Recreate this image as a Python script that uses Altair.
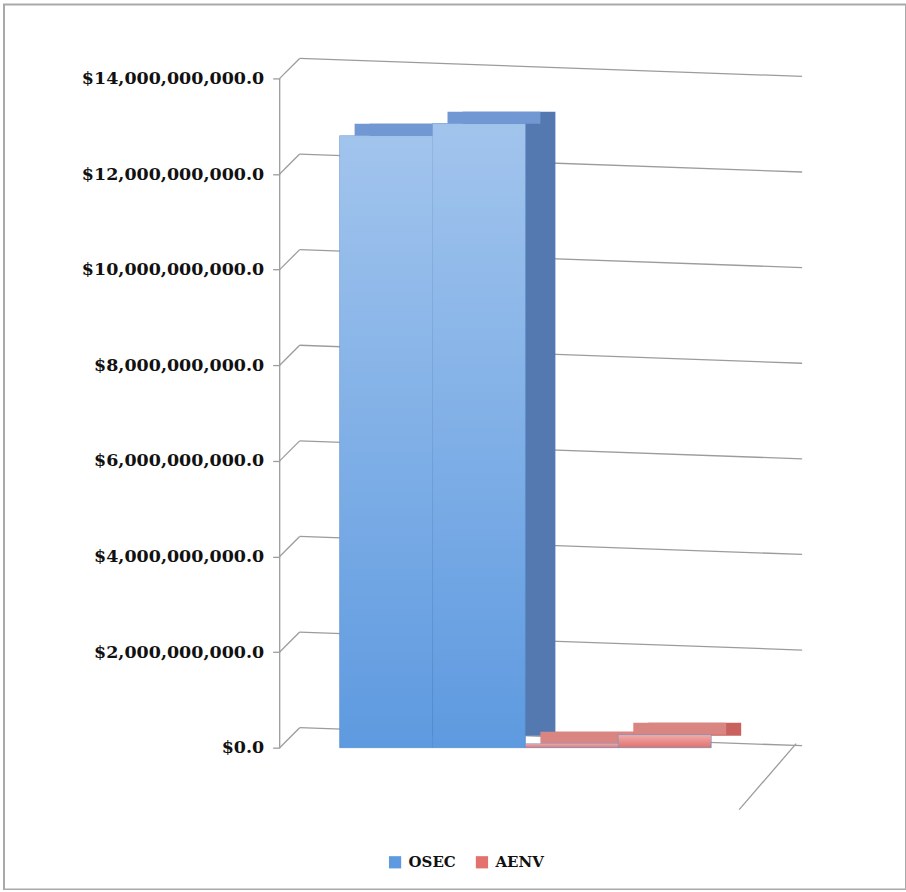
import altair as alt
import pandas as pd

# ---- data ----
bar_ids = ["1", "2", "3", "4"]
series = ["OSEC", "OSEC", "AENV", "AENV"]
values = [12.8e9, 13.05e9, 0.08e9, 0.27e9]
legend_order = ["OSEC", "AENV"]
tick_values = [0, 2e9, 4e9, 6e9, 8e9, 10e9, 12e9, 14e9]

df = pd.DataFrame({"bar": bar_ids, "series": series, "value": values})
ticks = pd.DataFrame({"tick": tick_values})

# ---- layout ----
W, H = 903, 886
px_per = 670 / 14e9
ymax = 14e9 + 74 / px_per
ymin = -(H - 744) / px_per

yscale = alt.Scale(domain=[ymin, ymax], nice=False, zero=False)
xscale = alt.Scale(domain=bar_ids, range=[336, 708], paddingInner=0, paddingOuter=0)

FONT = "DejaVu Serif"
GRID = "#9c9c9c"

yaxis = alt.Axis(
    values=tick_values, format="$,.1f", offset=-276, domain=False, grid=False,
    tickColor=GRID, tickSize=7, tickWidth=1.3, labelPadding=9, labelLimit=400,
    labelFont=FONT, labelFontWeight="bold", labelFontSize=17.5, labelColor="#111111",
    title=None,
)

BLUE = "#5e9ae0"
RED = "#e3716d"

# grid segments (axis to back wall, back wall)
grid_a = alt.Chart(ticks).mark_rule(color=GRID, strokeWidth=1.3, y2Offset=-20).encode(
    y=alt.Y("tick:Q", scale=yscale, axis=yaxis),
    y2="tick:Q",
    x=alt.value(276), x2=alt.value(296),
)
grid_b = alt.Chart(ticks).mark_rule(color=GRID, strokeWidth=1.3, yOffset=-20, y2Offset=-2).encode(
    y=alt.Y("tick:Q", scale=yscale, axis=yaxis),
    y2="tick:Q",
    x=alt.value(296), x2=alt.value(799),
)
axis_line = alt.Chart(ticks).mark_rule(color=GRID, strokeWidth=1.3).encode(
    y=alt.Y("min(tick):Q", scale=yscale, axis=yaxis),
    y2="max(tick):Q",
    x=alt.value(276),
)
floor_edge = alt.Chart(ticks).mark_rule(color=GRID, strokeWidth=1.3, yOffset=-4, y2Offset=62).encode(
    y=alt.Y("min(tick):Q", scale=yscale, axis=yaxis),
    y2="min(tick):Q",
    x=alt.value(793), x2=alt.value(736),
)

is_osec = alt.datum.series == "OSEC"

side = alt.Chart(df).mark_bar(xOffset=30, x2Offset=30, yOffset=-12, y2Offset=-12).encode(
    x=alt.X("bar:N", scale=xscale, axis=None),
    y=alt.Y("value:Q", scale=yscale, axis=yaxis),
    y2=alt.datum(0),
    fill=alt.condition(is_osec, alt.value("#5479b0"), alt.value("#c9625e")),
)
top = alt.Chart(df).mark_tick(thickness=12, size=93, xOffset=15, yOffset=-6, opacity=1, orient="horizontal").encode(
    x=alt.X("bar:N", scale=xscale, axis=None),
    y=alt.Y("value:Q", scale=yscale, axis=yaxis),
    color=alt.condition(is_osec, alt.value("#7198d2"), alt.value("#d98582")),
)
front = alt.Chart(df).mark_bar(stroke="#4f86c8", strokeWidth=1, strokeOpacity=0.6).encode(
    x=alt.X("bar:N", scale=xscale, axis=None),
    y=alt.Y("value:Q", scale=yscale, axis=yaxis),
    y2=alt.datum(0),
    color=alt.Color(
        "series:N",
        scale=alt.Scale(domain=legend_order, range=[BLUE, RED]),
        legend=alt.Legend(
            orient="none", legendX=384, legendY=851, direction="horizontal",
            title=None, symbolType="square", symbolSize=150, symbolStrokeWidth=0,
            labelFont=FONT, labelFontWeight="bold", labelFontSize=15, labelColor="#111111",
            labelOffset=6, columnPadding=18, padding=0,
        ),
    ),
)
shine = alt.Chart(df).mark_bar(
    fill={
        "gradient": "linear", "x1": 0, "y1": 0, "x2": 0, "y2": 1,
        "stops": [
            {"offset": 0, "color": "rgba(255,255,255,0.42)"},
            {"offset": 1, "color": "rgba(255,255,255,0)"},
        ],
    }
).encode(
    x=alt.X("bar:N", scale=xscale, axis=None),
    y=alt.Y("value:Q", scale=yscale, axis=yaxis),
    y2=alt.datum(0),
)

chart = alt.layer(
    grid_a, grid_b, axis_line, floor_edge, side, top, front, shine
).properties(
    width=W, height=H,
    autosize=alt.AutoSizeParams(type="none"),
    padding={"left": 4, "top": 4, "right": 0, "bottom": 0},
    background="white",
).configure_view(stroke="#a9a9a9", strokeWidth=2)

chart.save("out.html", embed_options={"renderer": "svg", "actions": False})
